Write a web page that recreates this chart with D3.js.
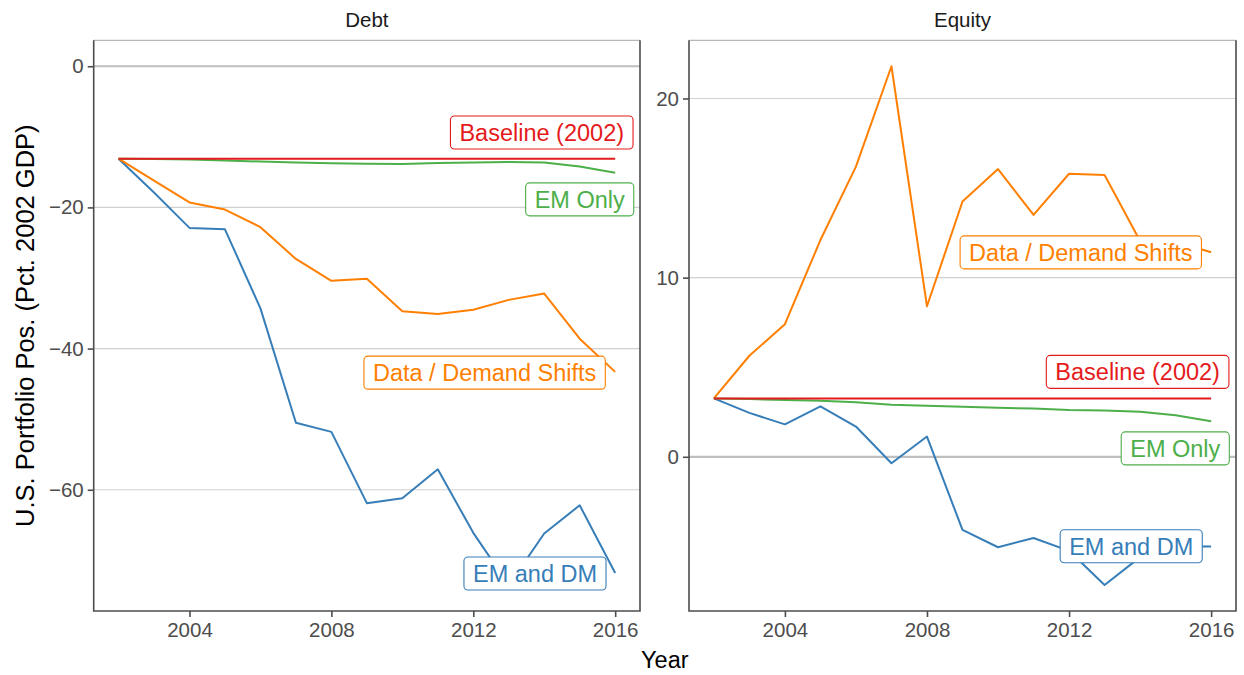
<!DOCTYPE html>
<html>
<head>
<meta charset="utf-8">
<script src="https://cdn.jsdelivr.net/npm/d3@7"></script>
<style>
body { margin: 0; background: #fff; }
svg text { font-family: "Liberation Sans", Arial, Helvetica, sans-serif; }
</style>
</head>
<body>
<svg id="chart" width="1244" height="675"></svg>
<script>
// ---- data ----
const years = [2002, 2003, 2004, 2005, 2006, 2007, 2008, 2009, 2010, 2011, 2012, 2013, 2014, 2015, 2016];
const seriesNames = ["EM and DM", "Data / Demand Shifts", "EM Only", "Baseline (2002)"];
const seriesColors = ["#377eb8", "#ff7f00", "#4daf4a", "#e41a1c"];

const debtEMDM     = [-13.1, -17.9, -22.9, -23.1, -34.3, -50.5, -51.8, -61.9, -61.2, -57.1, -66.1, -73.5, -66.2, -62.2, -71.8];
const debtDemand   = [-13.1, -16.2, -19.3, -20.3, -22.8, -27.3, -30.4, -30.1, -34.7, -35.1, -34.5, -33.1, -32.2, -38.6, -43.3];
const debtEMOnly   = [-13.1, -13.15, -13.2, -13.35, -13.5, -13.65, -13.75, -13.8, -13.85, -13.7, -13.65, -13.55, -13.65, -14.2, -15.1];
const debtBaseline = [-13.1, -13.1, -13.1, -13.1, -13.1, -13.1, -13.1, -13.1, -13.1, -13.1, -13.1, -13.1, -13.1, -13.1, -13.1];

const equityEMDM     = [3.26, 2.45, 1.81, 2.82, 1.69, -0.36, 1.13, -4.08, -5.05, -4.53, -5.25, -7.16, -5.6, -5.0, -5.01];
const equityDemand   = [3.26, 5.64, 7.4, 12.1, 16.2, 21.8, 8.4, 14.25, 16.06, 13.5, 15.8, 15.73, 12.05, 12.0, 11.42];
const equityEMOnly   = [3.26, 3.22, 3.17, 3.13, 3.04, 2.91, 2.85, 2.8, 2.74, 2.69, 2.61, 2.59, 2.52, 2.32, 1.98];
const equityBaseline = [3.26, 3.26, 3.26, 3.26, 3.26, 3.26, 3.26, 3.26, 3.26, 3.26, 3.26, 3.26, 3.26, 3.26, 3.26];

const panelNames = ["Debt", "Equity"];
const xTicks = [2004, 2008, 2012, 2016];
const debtTicks = [-60, -40, -20, 0];
const equityTicks = [0, 10, 20];

// ---- layout ----
const svg = d3.select("#chart");
const plotTop = 40.3, plotBottom = 611;
const panelX = { Debt: [93.7, 640], Equity: [689, 1236] };

// where the repelled labels sit, in data units (year, value)
const labelSpots = {
    Debt: [
        { name: "Baseline (2002)", year: 2013.93, value: -9.38 },
        { name: "EM Only", year: 2015.0, value: -18.86 },
        { name: "Data / Demand Shifts", year: 2012.32, value: -43.41 },
        { name: "EM and DM", year: 2013.74, value: -71.86 }
    ],
    Equity: [
        { name: "Data / Demand Shifts", year: 2012.33, value: 11.41 },
        { name: "Baseline (2002)", year: 2013.93, value: 4.74 },
        { name: "EM Only", year: 2014.99, value: 0.47 },
        { name: "EM and DM", year: 2013.75, value: -4.99 }
    ]
};

const panelData = {
    Debt: [debtEMDM, debtDemand, debtEMOnly, debtBaseline],
    Equity: [equityEMDM, equityDemand, equityEMOnly, equityBaseline]
};
const panelTicks = { Debt: debtTicks, Equity: equityTicks };

function expand(ext, m) {
    const r = ext[1] - ext[0];
    return [ext[0] - r * m, ext[1] + r * m];
}

panelNames.forEach(name => {
    const [x0, x1] = panelX[name];
    const all = panelData[name].flat().concat([0]);
    const x = d3.scaleLinear().domain(expand(d3.extent(years), 0.05)).range([x0, x1]);
    const y = d3.scaleLinear().domain(expand(d3.extent(all), 0.05)).range([plotBottom, plotTop]);
    const g = svg.append("g");

    // gridlines
    g.selectAll(".grid")
        .data(panelTicks[name].filter(d => d !== 0))
        .enter().append("line")
        .attr("x1", x0).attr("x2", x1)
        .attr("y1", d => y(d)).attr("y2", d => y(d))
        .attr("stroke", "#d0d0d0").attr("stroke-width", 1.1);

    // zero line
    g.append("line")
        .attr("x1", x0).attr("x2", x1)
        .attr("y1", y(0)).attr("y2", y(0))
        .attr("stroke", "#bfbfbf").attr("stroke-width", 2.2);

    // series lines
    const line = d3.line().x((d, i) => x(years[i])).y(d => y(d));
    panelData[name].forEach((vals, si) => {
        g.append("path")
            .datum(vals)
            .attr("fill", "none")
            .attr("stroke", seriesColors[si])
            .attr("stroke-width", 2)
            .attr("stroke-linejoin", "round")
            .attr("d", line);
    });

    // labels
    labelSpots[name].forEach(s => {
        const col = seriesColors[seriesNames.indexOf(s.name)];
        const lg = g.append("g").attr("transform", `translate(${x(s.year)},${y(s.value)})`);
        const rect = lg.append("rect");
        const t = lg.append("text")
            .attr("text-anchor", "middle")
            .attr("dy", "0.36em")
            .style("font-size", "23.5px")
            .attr("fill", col)
            .text(s.name);
        const w = t.node().getComputedTextLength() + 18;
        rect.attr("x", -w / 2).attr("y", -16.5)
            .attr("width", w).attr("height", 33)
            .attr("rx", 4).attr("ry", 4)
            .attr("fill", "#fff")
            .attr("stroke", col).attr("stroke-width", 1.1);
    });

    // axes
    const yAxis = g.append("g")
        .attr("transform", `translate(${x0},0)`)
        .call(d3.axisLeft(y).tickValues(panelTicks[name]).tickSize(6).tickPadding(4));
    const xAxis = g.append("g")
        .attr("transform", `translate(0,${plotBottom})`)
        .call(d3.axisBottom(x).tickValues(xTicks).tickFormat(d3.format("d")).tickSize(6).tickPadding(5));
    [yAxis, xAxis].forEach(a => {
        a.select(".domain").remove();
        a.selectAll(".tick line").attr("stroke", "#4d4d4d").attr("stroke-width", 1.6);
        a.selectAll(".tick text").attr("fill", "#4d4d4d").style("font-size", "20.5px");
    });

    // panel border
    g.append("line").attr("x1", x0).attr("x2", x1).attr("y1", plotTop).attr("y2", plotTop)
        .attr("stroke", "#a6a6a6").attr("stroke-width", 1);
    g.append("path")
        .attr("d", `M${x0},${plotTop}V${plotBottom}H${x1}V${plotTop}`)
        .attr("fill", "none").attr("stroke", "#4d4d4d").attr("stroke-width", 1.6);

    // strip label
    svg.append("text")
        .attr("x", (x0 + x1) / 2).attr("y", 27.3)
        .attr("text-anchor", "middle")
        .attr("fill", "#1a1a1a")
        .style("font-size", "20.5px")
        .text(name);
});

// axis titles
svg.append("text")
    .attr("x", (panelX.Debt[0] + panelX.Equity[1]) / 2).attr("y", 668.3)
    .attr("text-anchor", "middle")
    .style("font-size", "23.5px")
    .text("Year");

svg.append("text")
    .attr("transform", `translate(33.5,${(plotTop + plotBottom) / 2}) rotate(-90)`)
    .attr("text-anchor", "middle")
    .style("font-size", "25.5px")
    .text("U.S. Portfolio Pos. (Pct. 2002 GDP)");
</script>
</body>
</html>
